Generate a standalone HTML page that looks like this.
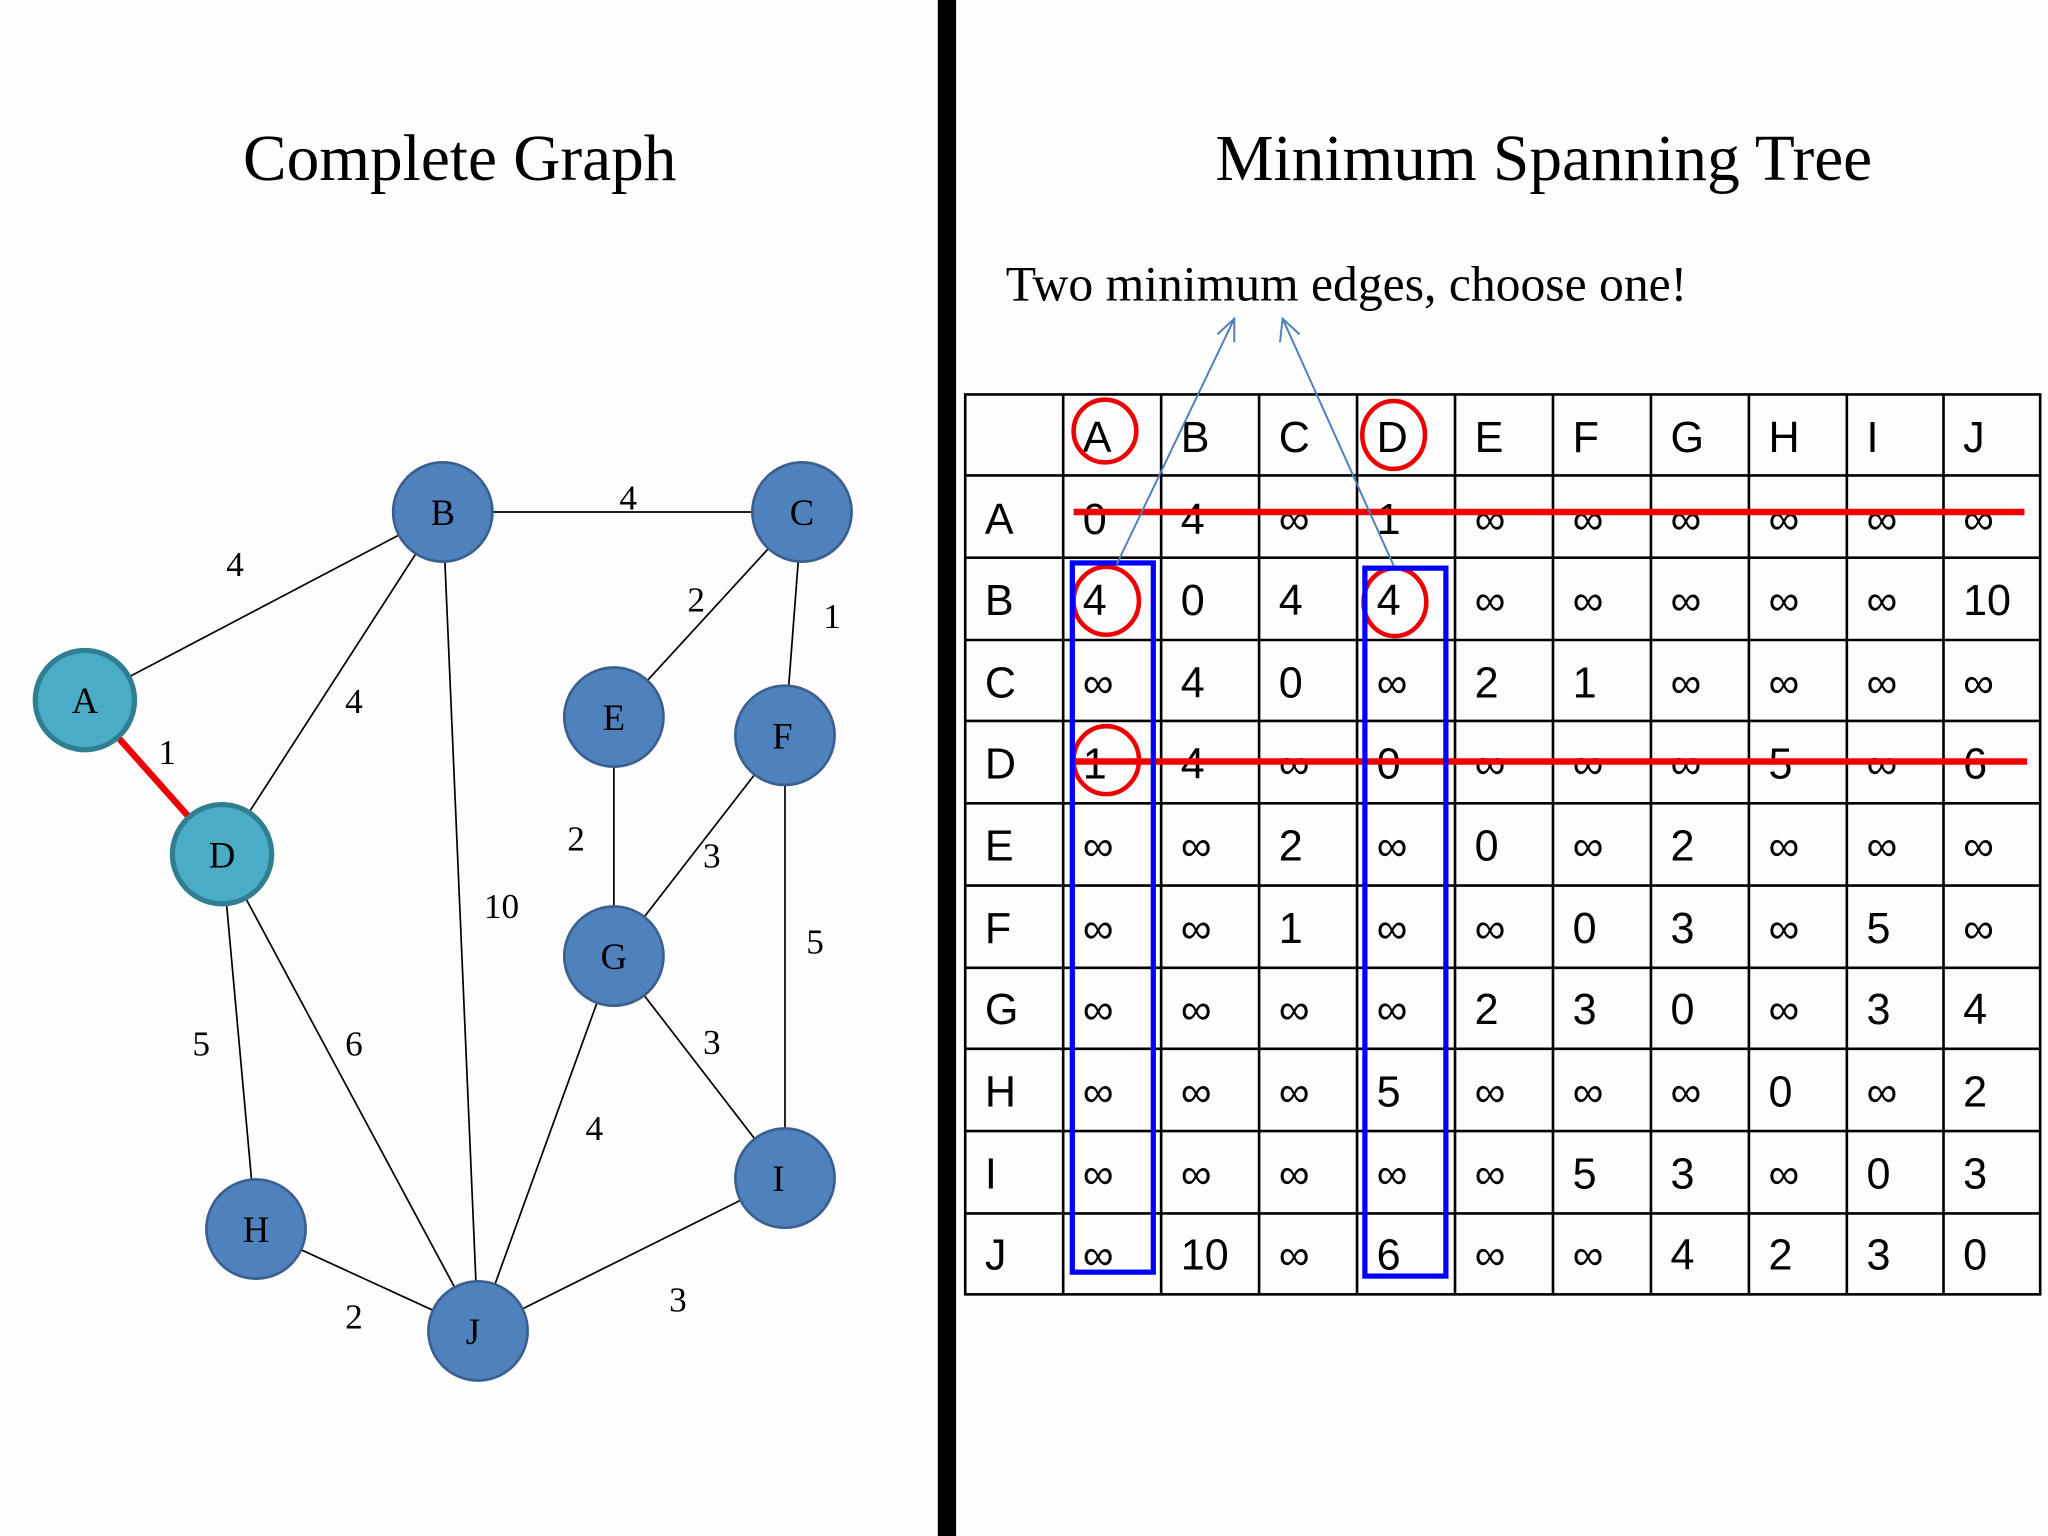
<!DOCTYPE html>
<html><head><meta charset="utf-8"><style>
html,body{margin:0;padding:0;background:#fdfdfd;}
svg{display:block;}
.t{font-family:"Liberation Sans",sans-serif;font-size:33px;fill:#000;}
.s{font-family:"Liberation Serif",serif;fill:#000;}
</style></head><body>
<svg width="2048" height="1536" viewBox="0 0 1568 1176" xmlns="http://www.w3.org/2000/svg">
<rect width="1568" height="1176" fill="#fdfdfd"/>
<rect x="718" y="0" width="14" height="1176" fill="#000"/>
<text class="s" x="352" y="138" font-size="50" text-anchor="middle">Complete Graph</text>
<text class="s" x="1182" y="138" font-size="50" text-anchor="middle">Minimum Spanning Tree</text>
<text class="s" x="770" y="230" font-size="38">Two minimum edges, choose one!</text>
<g stroke="#000" stroke-width="1.3">
<line x1="65" y1="536" x2="339" y2="392"/>
<line x1="339" y1="392" x2="614" y2="392"/>
<line x1="339" y1="392" x2="170" y2="654"/>
<line x1="339" y1="392" x2="366" y2="1019"/>
<line x1="614" y1="392" x2="470" y2="549"/>
<line x1="614" y1="392" x2="601" y2="563"/>
<line x1="470" y1="549" x2="470" y2="732"/>
<line x1="601" y1="563" x2="470" y2="732"/>
<line x1="601" y1="563" x2="601" y2="902"/>
<line x1="170" y1="654" x2="196" y2="941"/>
<line x1="170" y1="654" x2="366" y2="1019"/>
<line x1="470" y1="732" x2="366" y2="1019"/>
<line x1="470" y1="732" x2="601" y2="902"/>
<line x1="196" y1="941" x2="366" y2="1019"/>
<line x1="601" y1="902" x2="366" y2="1019"/>
</g>
<line x1="65" y1="536" x2="170" y2="654" stroke="#e00" stroke-width="5"/>
<g stroke="#3a5f8e" stroke-width="2" fill="#4f81bd">
<circle cx="339" cy="392" r="38"/><circle cx="614" cy="392" r="38"/>
<circle cx="470" cy="549" r="38"/><circle cx="601" cy="563" r="38"/>
<circle cx="470" cy="732" r="38"/><circle cx="601" cy="902" r="38"/>
<circle cx="196" cy="941" r="38"/><circle cx="366" cy="1019" r="38"/>
</g>
<g stroke="#2f7f91" stroke-width="4" fill="#4bacc6">
<circle cx="65" cy="536" r="38"/><circle cx="170" cy="654" r="38"/>
</g>
<g class="s" font-size="28" text-anchor="middle">
<text x="65" y="546">A</text><text x="339" y="402">B</text><text x="614" y="402">C</text>
<text x="170" y="664">D</text><text x="470" y="559">E</text><text x="599" y="573">F</text>
<text x="470" y="742">G</text><text x="196" y="951">H</text><text x="596" y="912">I</text>
<text x="362" y="1029">J</text>
</g>
<g class="s" font-size="27" text-anchor="middle">
<text x="180" y="441">4</text><text x="481" y="390">4</text><text x="533" y="468">2</text>
<text x="637" y="481">1</text><text x="271" y="546">4</text><text x="128" y="585">1</text>
<text x="441" y="651">2</text><text x="545" y="664">3</text><text x="384" y="703">10</text>
<text x="624" y="730">5</text><text x="154" y="808">5</text><text x="271" y="808">6</text>
<text x="545" y="807">3</text><text x="455" y="873">4</text><text x="271" y="1017">2</text>
<text x="519" y="1004">3</text>
</g>
<g stroke="#000" stroke-width="2" fill="none">
<rect x="739" y="302" width="823" height="689"/>
<line x1="814" y1="302" x2="814" y2="991"/><line x1="889" y1="302" x2="889" y2="991"/>
<line x1="964" y1="302" x2="964" y2="991"/><line x1="1039" y1="302" x2="1039" y2="991"/>
<line x1="1114" y1="302" x2="1114" y2="991"/><line x1="1189" y1="302" x2="1189" y2="991"/>
<line x1="1264" y1="302" x2="1264" y2="991"/><line x1="1339" y1="302" x2="1339" y2="991"/>
<line x1="1414" y1="302" x2="1414" y2="991"/><line x1="1488" y1="302" x2="1488" y2="991"/>
<line x1="739" y1="364" x2="1562" y2="364"/><line x1="739" y1="427" x2="1562" y2="427"/>
<line x1="739" y1="490" x2="1562" y2="490"/><line x1="739" y1="552" x2="1562" y2="552"/>
<line x1="739" y1="615" x2="1562" y2="615"/><line x1="739" y1="678" x2="1562" y2="678"/>
<line x1="739" y1="741" x2="1562" y2="741"/><line x1="739" y1="803" x2="1562" y2="803"/>
<line x1="739" y1="866" x2="1562" y2="866"/><line x1="739" y1="929" x2="1562" y2="929"/>
</g>
<g class="t">
<text x="829" y="346">A</text><text x="904" y="346">B</text><text x="979" y="346">C</text><text x="1054" y="346">D</text><text x="1129" y="346">E</text><text x="1204" y="346">F</text><text x="1279" y="346">G</text><text x="1354" y="346">H</text><text x="1429" y="346">I</text><text x="1503" y="346">J</text>
<text x="754" y="409">A</text><text x="829" y="409">0</text><text x="904" y="409">4</text><text x="979" y="409">∞</text><text x="1054" y="409">1</text><text x="1129" y="409">∞</text><text x="1204" y="409">∞</text><text x="1279" y="409">∞</text><text x="1354" y="409">∞</text><text x="1429" y="409">∞</text><text x="1503" y="409">∞</text>
<text x="754" y="471">B</text><text x="829" y="471">4</text><text x="904" y="471">0</text><text x="979" y="471">4</text><text x="1054" y="471">4</text><text x="1129" y="471">∞</text><text x="1204" y="471">∞</text><text x="1279" y="471">∞</text><text x="1354" y="471">∞</text><text x="1429" y="471">∞</text><text x="1503" y="471">10</text>
<text x="754" y="534">C</text><text x="829" y="534">∞</text><text x="904" y="534">4</text><text x="979" y="534">0</text><text x="1054" y="534">∞</text><text x="1129" y="534">2</text><text x="1204" y="534">1</text><text x="1279" y="534">∞</text><text x="1354" y="534">∞</text><text x="1429" y="534">∞</text><text x="1503" y="534">∞</text>
<text x="754" y="596">D</text><text x="829" y="596">1</text><text x="904" y="596">4</text><text x="979" y="596">∞</text><text x="1054" y="596">0</text><text x="1129" y="596">∞</text><text x="1204" y="596">∞</text><text x="1279" y="596">∞</text><text x="1354" y="596">5</text><text x="1429" y="596">∞</text><text x="1503" y="596">6</text>
<text x="754" y="659">E</text><text x="829" y="659">∞</text><text x="904" y="659">∞</text><text x="979" y="659">2</text><text x="1054" y="659">∞</text><text x="1129" y="659">0</text><text x="1204" y="659">∞</text><text x="1279" y="659">2</text><text x="1354" y="659">∞</text><text x="1429" y="659">∞</text><text x="1503" y="659">∞</text>
<text x="754" y="722">F</text><text x="829" y="722">∞</text><text x="904" y="722">∞</text><text x="979" y="722">1</text><text x="1054" y="722">∞</text><text x="1129" y="722">∞</text><text x="1204" y="722">0</text><text x="1279" y="722">3</text><text x="1354" y="722">∞</text><text x="1429" y="722">5</text><text x="1503" y="722">∞</text>
<text x="754" y="784">G</text><text x="829" y="784">∞</text><text x="904" y="784">∞</text><text x="979" y="784">∞</text><text x="1054" y="784">∞</text><text x="1129" y="784">2</text><text x="1204" y="784">3</text><text x="1279" y="784">0</text><text x="1354" y="784">∞</text><text x="1429" y="784">3</text><text x="1503" y="784">4</text>
<text x="754" y="847">H</text><text x="829" y="847">∞</text><text x="904" y="847">∞</text><text x="979" y="847">∞</text><text x="1054" y="847">5</text><text x="1129" y="847">∞</text><text x="1204" y="847">∞</text><text x="1279" y="847">∞</text><text x="1354" y="847">0</text><text x="1429" y="847">∞</text><text x="1503" y="847">2</text>
<text x="754" y="910">I</text><text x="829" y="910">∞</text><text x="904" y="910">∞</text><text x="979" y="910">∞</text><text x="1054" y="910">∞</text><text x="1129" y="910">∞</text><text x="1204" y="910">5</text><text x="1279" y="910">3</text><text x="1354" y="910">∞</text><text x="1429" y="910">0</text><text x="1503" y="910">3</text>
<text x="754" y="972">J</text><text x="829" y="972">∞</text><text x="904" y="972">10</text><text x="979" y="972">∞</text><text x="1054" y="972">6</text><text x="1129" y="972">∞</text><text x="1204" y="972">∞</text><text x="1279" y="972">4</text><text x="1354" y="972">2</text><text x="1429" y="972">3</text><text x="1503" y="972">0</text>
</g>
<g stroke="#e00" stroke-width="5">
<line x1="822" y1="392" x2="1550" y2="392"/>
<line x1="822" y1="583" x2="1552" y2="583"/>
</g>
<g stroke="#e00" stroke-width="3.5" fill="none">
<ellipse cx="846" cy="330" rx="24" ry="24"/><ellipse cx="1067" cy="333" rx="24" ry="26"/>
<ellipse cx="847" cy="460" rx="25" ry="26"/><ellipse cx="1068" cy="461" rx="24" ry="26"/>
<ellipse cx="847" cy="582" rx="25" ry="26"/>
</g>
<g stroke="#00f" stroke-width="4" fill="none">
<rect x="821" y="431" width="62" height="543"/>
<rect x="1045" y="435" width="62" height="542"/>
</g>
<g stroke="#4f7fba" stroke-width="1.5" fill="none">
<line x1="855" y1="432" x2="945" y2="244"/>
<polyline points="932,256 945,244 945,262"/>
<line x1="1067" y1="433" x2="982" y2="244"/>
<polyline points="980,262 982,244 995,256"/>
</g>
</svg>
</body></html>
